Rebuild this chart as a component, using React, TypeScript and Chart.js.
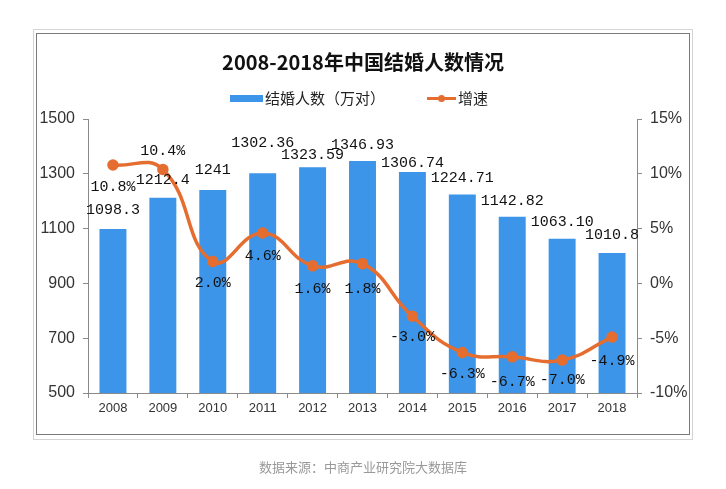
import React, { useEffect, useRef } from 'react';
import { Chart, registerables } from 'chart.js';

Chart.register(...registerables);

const years = ['2008', '2009', '2010', '2011', '2012', '2013', '2014', '2015', '2016', '2017', '2018'];
const marriages = [1098.3, 1212.4, 1241, 1302.36, 1323.59, 1346.93, 1306.74, 1224.71, 1142.82, 1063.1, 1010.8];
const marriageLabels = ['1098.3', '1212.4', '1241', '1302.36', '1323.59', '1346.93', '1306.74', '1224.71', '1142.82', '1063.10', '1010.8'];
const growth = [10.8, 10.4, 2.0, 4.6, 1.6, 1.8, -3.0, -6.3, -6.7, -7.0, -4.9];
const growthLabels = ['10.8%', '10.4%', '2.0%', '4.6%', '1.6%', '1.8%', '-3.0%', '-6.3%', '-6.7%', '-7.0%', '-4.9%'];
const leftTicks = [500, 700, 900, 1100, 1300, 1500];
const rightTicks = [-10, -5, 0, 5, 10, 15];

const titleText = '2008-2018年中国结婚人数情况';
const barName = '结婚人数（万对）';
const lineName = '增速';
const sourceText = '数据来源：中商产业研究院大数据库';

// label placement styling (pixels above bar tops / below line points)
const barLabelLift = [19, 18, 20, 30, 12, 16, 9, 16, 16, 17, 18];
const lineLabelDrop = [22, -18, 22, 23, 23, 25, 21, 22, 25, 20, 24];

const BLUE = '#3C95E8';
const ORANGE = '#E46D2F';
const CJK = '"Noto Sans CJK SC", "Noto Sans", sans-serif';
const MONO = '"Liberation Mono", "DejaVu Sans Mono", monospace';

const decorPlugin = {
  id: 'decor',
  beforeDraw(chart: any) {
    const ctx = chart.ctx;
    ctx.save();
    ctx.fillStyle = '#ffffff';
    ctx.fillRect(0, 0, chart.width, chart.height);
    ctx.lineWidth = 1;
    ctx.strokeStyle = '#d4d4d4';
    ctx.strokeRect(33.5, 29.5, 659, 410);
    ctx.strokeStyle = '#7a7a7a';
    ctx.strokeRect(36.5, 33.5, 653, 401);
    ctx.restore();
  },
  afterDraw(chart: any) {
    const ctx = chart.ctx;
    ctx.save();
    // title
    ctx.fillStyle = '#111';
    ctx.font = `bold 20px ${CJK}`;
    ctx.textAlign = 'center';
    ctx.textBaseline = 'middle';
    ctx.fillText(titleText, 363, 62);
    // legend
    ctx.fillStyle = BLUE;
    ctx.fillRect(230, 95, 33, 7);
    ctx.fillStyle = '#222';
    ctx.font = `15px ${CJK}`;
    ctx.textAlign = 'left';
    ctx.fillText(barName, 265, 98.5);
    ctx.strokeStyle = ORANGE;
    ctx.lineWidth = 3;
    ctx.beginPath();
    ctx.moveTo(427, 98.5);
    ctx.lineTo(456, 98.5);
    ctx.stroke();
    ctx.fillStyle = ORANGE;
    ctx.beginPath();
    ctx.arc(441.5, 98.5, 3.5, 0, Math.PI * 2);
    ctx.fill();
    ctx.fillStyle = '#222';
    ctx.fillText(lineName, 458, 98.5);
    // source
    ctx.fillStyle = '#999';
    ctx.font = `13px ${CJK}`;
    ctx.textAlign = 'center';
    ctx.fillText(sourceText, 363, 467);
    ctx.restore();
  },
  afterDatasetsDraw(chart: any) {
    const ctx = chart.ctx;
    ctx.save();
    ctx.font = `15px ${MONO}`;
    ctx.fillStyle = '#111';
    ctx.textAlign = 'center';
    ctx.textBaseline = 'middle';
    const bars = chart.getDatasetMeta(0).data;
    bars.forEach((el: any, i: number) => {
      ctx.fillText(marriageLabels[i], el.x, el.y - barLabelLift[i]);
    });
    const pts = chart.getDatasetMeta(1).data;
    pts.forEach((el: any, i: number) => {
      ctx.fillText(growthLabels[i], el.x, el.y + lineLabelDrop[i]);
    });
    ctx.restore();
  },
};

export default function App() {
  const ref = useRef<HTMLCanvasElement>(null);
  useEffect(() => {
    if (!ref.current) return;
    const axisColor = '#8a8a8a';
    const chart = new Chart(ref.current, {
      type: 'bar',
      data: {
        labels: years,
        datasets: [
          {
            type: 'bar',
            label: barName,
            data: marriages,
            backgroundColor: BLUE,
            yAxisID: 'y',
            barPercentage: 0.54,
            categoryPercentage: 1,
            order: 2,
          } as any,
          {
            type: 'line',
            label: lineName,
            data: growth,
            borderColor: ORANGE,
            backgroundColor: ORANGE,
            borderWidth: 3.5,
            pointRadius: 4,
            pointBackgroundColor: ORANGE,
            pointBorderColor: ORANGE,
            tension: 0.45,
            yAxisID: 'y1',
            order: 1,
          } as any,
        ],
      },
      options: {
        responsive: false,
        animation: false,
        devicePixelRatio: 1,
        layout: { padding: { top: 119, left: 0, right: 0, bottom: 0 } },
        plugins: {
          legend: { display: false },
          title: { display: false },
          tooltip: { enabled: false },
        },
        scales: {
          x: {
            type: 'category',
            grid: { offset: true, drawOnChartArea: false, drawTicks: true, tickLength: 5, color: axisColor },
            border: { color: axisColor, width: 1 },
            ticks: { color: '#333', font: { size: 13, family: '"Liberation Sans", Arial, sans-serif' }, padding: 3 },
            afterFit(scale: any) { scale.height = 96; },
          },
          y: {
            position: 'left',
            min: 500,
            max: 1500,
            afterBuildTicks(scale: any) { scale.ticks = leftTicks.map((v) => ({ value: v })); },
            grid: { drawOnChartArea: false, drawTicks: true, tickLength: 5, color: axisColor },
            border: { color: axisColor, width: 1 },
            ticks: {
              color: '#333',
              font: { size: 16, family: '"Liberation Sans", Arial, sans-serif' },
              padding: 8,
              callback: (v: any) => String(v),
            },
            afterFit(scale: any) { scale.width = 88; },
          },
          y1: {
            position: 'right',
            min: -10,
            max: 15,
            afterBuildTicks(scale: any) { scale.ticks = rightTicks.map((v) => ({ value: v })); },
            grid: { drawOnChartArea: false, drawTicks: true, tickLength: 5, color: axisColor },
            border: { color: axisColor, width: 1 },
            ticks: {
              color: '#333',
              font: { size: 16, family: '"Liberation Sans", Arial, sans-serif' },
              padding: 8,
              callback: (v: any) => `${v}%`,
            },
            afterFit(scale: any) { scale.width = 89; },
          },
        },
      } as any,
      plugins: [decorPlugin],
    });
    return () => chart.destroy();
  }, []);
  return (
    <div style={{ position: 'absolute', left: 0, top: 0, width: 726, height: 489 }}>
      <canvas ref={ref} width={726} height={489} style={{ display: 'block' }} />
    </div>
  );
}
